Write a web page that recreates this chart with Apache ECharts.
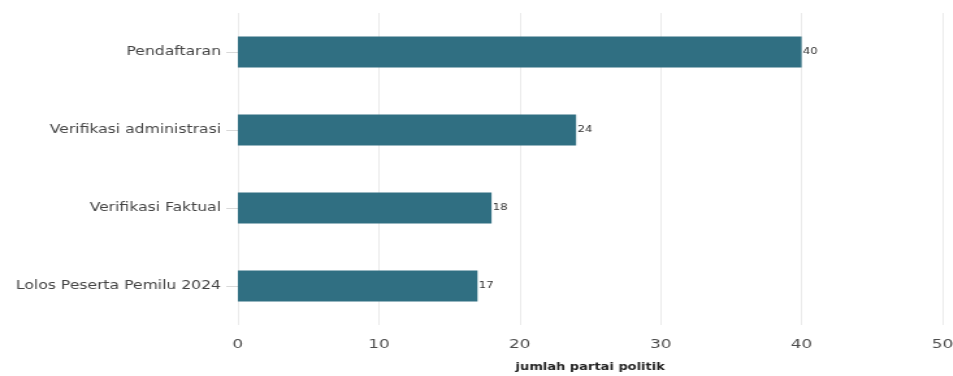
<!DOCTYPE html>
<html><head><meta charset="utf-8">
<script src="https://cdn.jsdelivr.net/npm/echarts@6/dist/echarts.min.js"></script>
<style>html,body{margin:0;padding:0;background:#fff;overflow:hidden}
#c{width:733px;height:376px;transform:scaleX(1.3);transform-origin:0 0}</style>
</head><body><div id="c"></div>
<script>
const categories = ["Pendaftaran", "Verifikasi administrasi", "Verifikasi Faktual", "Lolos Peserta Pemilu 2024"];
const values = [40, 24, 18, 17];
const xTicks = [0, 10, 20, 30, 40, 50];
const xTitle = "jumlah partai politik";

const chart = echarts.init(document.getElementById('c'), null, {width: 733, height: 376});
chart.setOption({
  animation: false,
  grid: {left: 183, right: 8, top: 13, bottom: 51, containLabel: false, outerBoundsMode: 'none'},
  xAxis: {
    type: 'value', min: 0, max: 50, interval: 10,
    name: xTitle, nameLocation: 'middle', nameGap: 37,
    nameTextStyle: {fontFamily: 'DejaVu Sans', fontWeight: 'bold', fontSize: 10, color: '#222'},
    axisLine: {show: false}, axisTick: {show: false},
    axisLabel: {fontFamily: 'DejaVu Sans', fontSize: 13, color: '#4d4d4d', margin: 13,
      formatter: v => xTicks.includes(v) ? String(v) : ''},
    splitLine: {show: true, lineStyle: {color: '#ebebeb', width: 1}}
  },
  yAxis: {
    type: 'category', data: categories, inverse: true,
    axisLine: {show: false},
    axisTick: {show: true, alignWithLabel: true, length: 9, lineStyle: {color: '#d9d9d9'}},
    axisLabel: {fontFamily: 'DejaVu Sans', fontSize: 12, color: '#444', margin: 13}
  },
  series: [{
    type: 'bar', data: values, barWidth: 31,
    itemStyle: {color: '#306f82'},
    label: {show: true, position: 'right', distance: 1, fontFamily: 'DejaVu Sans', fontSize: 9, color: '#333'}
  }]
});
</script></body></html>
